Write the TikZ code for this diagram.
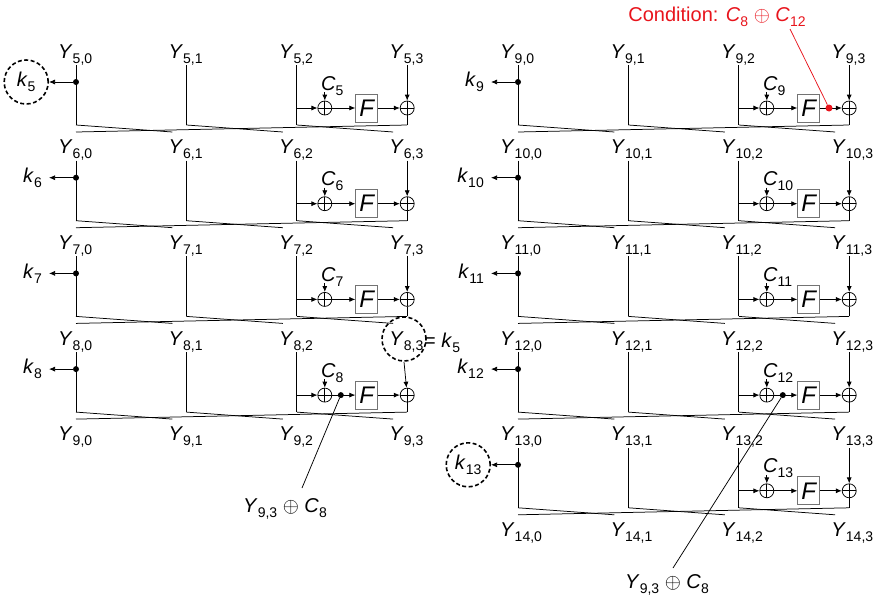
\documentclass[tikz,border=0pt]{standalone}
\usepackage{fontspec}
\setmainfont{Liberation Sans}
\usetikzlibrary{arrows.meta,calc}

\newcommand{\ysb}[2]{\textit{#1}\raisebox{-5pt}{\fontsize{14}{14}\selectfont #2}}

\definecolor{condred}{RGB}{232,20,28}
\tikzset{
 wire/.style={line width=0.75pt, black},
 arr/.style={wire, -{Latex[length=6pt,width=5pt]}},
 lab/.style={font=\fontsize{20}{22}\selectfont, inner sep=0pt, anchor=base west},
 xorn/.style={circle, draw, line width=0.75pt, minimum size=14pt, inner sep=0pt,
   path picture={\draw[line width=0.75pt] (path picture bounding box.north) -- (path picture bounding box.south)
     (path picture bounding box.west) -- (path picture bounding box.east);}},
 fbox/.style={draw=black!55, line width=0.9pt, minimum width=22pt, minimum height=28pt, inner sep=0pt,
   font=\fontsize{24}{24}\selectfont\itshape},
 knode/.style={font=\fontsize{20}{22}\selectfont, inner xsep=7pt, inner ysep=2pt, anchor=east},
 dcirc/.style={circle, draw, dash pattern=on 4pt off 2.5pt, line width=1.6pt, minimum size=44pt, inner sep=0pt,
   font=\fontsize{20}{22}\selectfont},
 kcirc/.style={dcirc, anchor=east},
 dotn/.style={circle, fill, inner sep=0pt, minimum size=6pt},
 reddot/.style={circle, fill=condred, inner sep=0pt, minimum size=7pt},
}

% #1 X0, #2 row index, #3 round number, #4 k style, #5 prefix, #6 start of column-3 arrow
\newcommand{\rnd}[6]{%
 \pgfmathsetmacro\Yo{95.7*#2}%
 \pgfmathsetmacro\xA{#1}%
 \pgfmathsetmacro\xB{#1+110.4}%
 \pgfmathsetmacro\xC{#1+220.8}%
 \pgfmathsetmacro\xD{#1+331.2}%
 \coordinate (#5t0) at (\xA,65+\Yo);
 \coordinate (#5t1) at (\xB,65+\Yo);
 \coordinate (#5t2) at (\xC,65+\Yo);
 \coordinate (#5t3) at (\xD,65+\Yo);
 \coordinate (#5b0) at (\xA,125+\Yo);
 \coordinate (#5b1) at (\xB,125+\Yo);
 \coordinate (#5b2) at (\xC,125+\Yo);
 \coordinate (#5b3) at (\xD,125+\Yo);
 \draw[wire] (#5t0) -- (#5b0);
 \draw[wire] (#5t1) -- (#5b1);
 \draw[wire] (#5t2) -- (#5b2);
 \node[dotn] (#5d) at (\xA,82+\Yo) {};
 \node[#4] (#5k) at (\xA-27,82+\Yo) {\ysb{k}{#3}};
 \draw[arr] (#5d) -- (#5k);
 \coordinate (#5h) at (\xC,108+\Yo);
 \node[xorn] (#5xa) at (\xC+28,108+\Yo) {};
 \node[fbox] (#5f) at (\xC+70,108+\Yo) {F};
 \node[xorn] (#5xb) at (\xD,108+\Yo) {};
 \draw[arr] (#5h) -- (#5xa);
 \draw[arr] (#5xa) -- (#5f);
 \draw[arr] (#5f) -- (#5xb);
 \draw[arr] (#6) -- (#5xb);
 \draw[wire] (#5xb) -- (#5b3);
 \node[lab] (#5c) at (\xC+24,90+\Yo) {\ysb{C}{#3}};
 \coordinate (#5cs) at (\xC+28,92+\Yo);
 \draw[arr] (#5cs) -- (#5xa);
 \coordinate (#5e0) at (\xA,132+\Yo);
 \coordinate (#5e1) at (\xB-14,132+\Yo);
 \coordinate (#5e2) at (\xC-14,132+\Yo);
 \coordinate (#5e3) at (\xD-14,132+\Yo);
 \draw[wire] (#5b0) -- (#5e1);
 \draw[wire] (#5b1) -- (#5e2);
 \draw[wire] (#5b2) -- (#5e3);
 \draw[wire] (#5b3) -- (#5e0);
}

% #1 X0, #2 row index, #3 round number, #4 prefix
\newcommand{\ylabs}[4]{%
 \pgfmathsetmacro\Yo{95.7*#2}%
 \foreach \j in {0,1,2,3}{\node[lab] (#4x\j) at ({#1+110.4*\j-18},{58+\Yo}) {\ysb{Y}{#3,\j}};}
}

\begin{document}
\begin{tikzpicture}[x=1pt,y=-1pt]
\useasboundingbox (0,0) rectangle (878,600);

% ---------- left block ----------
\ylabs{76}{0}{5}{yl5}
\ylabs{76}{1}{6}{yl6}
\ylabs{76}{2}{7}{yl7}
\ylabs{76}{3}{8}{yl8}
\ylabs{76}{4}{9}{yl9}
\node[dcirc] (c83) at (404,339) {};
\node[lab] (eqk) at (424,347) {= \ysb{k}{5}};
\rnd{76}{0}{5}{kcirc}{La}{Lat3}
\rnd{76}{1}{6}{knode}{Lb}{Lbt3}
\rnd{76}{2}{7}{knode}{Lc}{Lct3}
\rnd{76}{3}{8}{knode}{Ld}{c83.south}

% ---------- right block ----------
\ylabs{518}{0}{9}{yr9}
\ylabs{518}{1}{10}{yr10}
\ylabs{518}{2}{11}{yr11}
\ylabs{518}{3}{12}{yr12}
\ylabs{518}{4}{13}{yr13}
\ylabs{518}{5}{14}{yr14}
\rnd{518}{0}{9}{knode}{Ra}{Rat3}
\rnd{518}{1}{10}{knode}{Rb}{Rbt3}
\rnd{518}{2}{11}{knode}{Rc}{Rct3}
\rnd{518}{3}{12}{knode}{Rd}{Rdt3}
\rnd{518}{4}{13}{kcirc}{Re}{Ret3}

% ---------- annotations ----------
\node[dotn] (ldot) at (340.8,395.1) {};
\node[lab, anchor=base] (ann1) at (285,512) {\ysb{Y}{9,3} $\oplus$ \ysb{C}{8}};
\coordinate (ann1p) at (302,488);
\draw[wire] (ldot) -- (ann1p);

\node[dotn] (rdot) at (782.8,395.1) {};
\node[lab, anchor=base] (ann2) at (667,588) {\ysb{Y}{9,3} $\oplus$ \ysb{C}{8}};
\coordinate (ann2p) at (673,568);
\draw[wire] (rdot) -- (ann2p);

\node[reddot] (cdot) at (829,108) {};
\node[lab, anchor=base, text=condred] (cond) at (717,21) {Condition: \ysb{C}{8} $\oplus$ \ysb{C}{12}};
\coordinate (condp) at (790,29);
\draw[line width=0.75pt, condred] (condp) -- (cdot);
\end{tikzpicture}
\end{document}
